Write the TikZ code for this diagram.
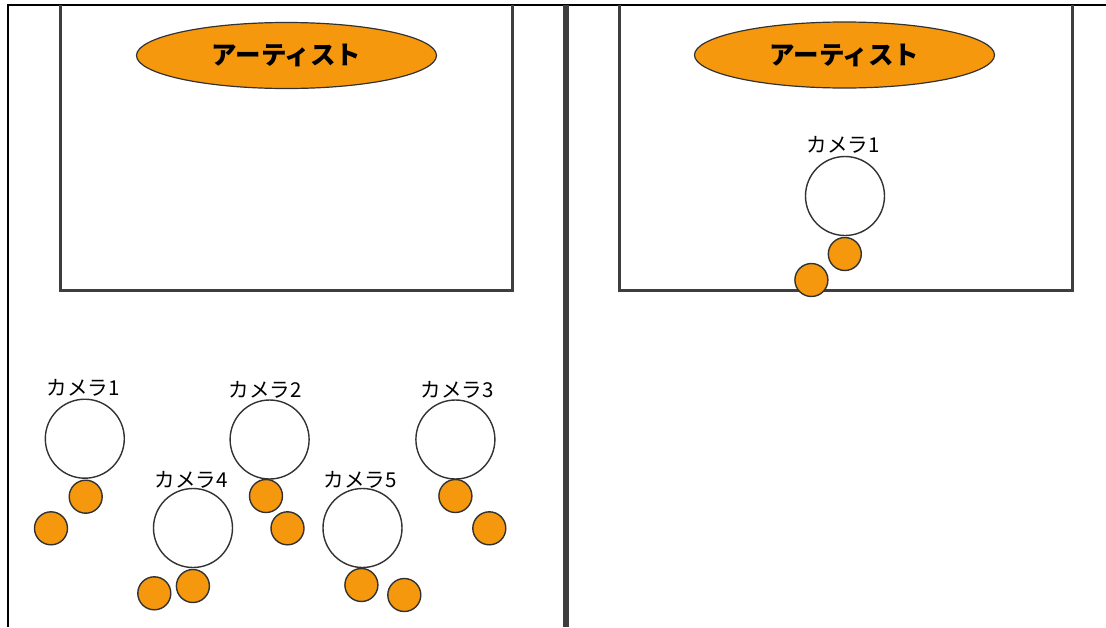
\documentclass[tikz,border=0pt]{standalone}
\usepackage{fontspec}
\newfontfamily\jp{Noto Sans CJK JP}
\usetikzlibrary{shapes.geometric}
\definecolor{stageorange}{RGB}{246,152,14}
\definecolor{wallgray}{RGB}{62,62,62}
\definecolor{rimgray}{RGB}{50,50,50}
\tikzset{
  frameline/.style={draw=black, line width=2pt},
  stagewall/.style={draw=wallgray, line width=3pt},
  divider/.style={draw=wallgray, line width=6pt},
  artist/.style={ellipse, draw=rimgray, line width=1.2pt, fill=stageorange,
    minimum width=300pt, minimum height=66pt, inner sep=0pt,
    font=\jp\bfseries\fontsize{25.5}{25.5}\selectfont},
  cambody/.style={circle, draw=rimgray, line width=1.4pt, fill=white,
    minimum size=79pt, inner sep=0pt},
  campart/.style={circle, draw=rimgray, line width=1.4pt, fill=stageorange,
    minimum size=33pt, inner sep=0pt},
  camlabel/.style={inner sep=0pt, font=\jp\fontsize{20.5}{20.5}\selectfont}
}
\begin{document}
\begin{tikzpicture}[x=1pt, y=-1pt]
  \useasboundingbox (0,0) rectangle (1106,627);
  \fill[white] (0,0) rectangle (1106,627);

  % outer frame: top and left edges
  \coordinate (frameTR) at (1106,4.5);
  \coordinate (frameTL) at (7.5,4.5);
  \coordinate (frameBL) at (7.5,627);
  \draw[frameline] (frameTR) -- (frameTL) -- (frameBL);

  % centre divider
  \coordinate (divTop) at (566,4.5);
  \coordinate (divBot) at (566,627);
  \draw[divider] (divTop) -- (divBot);

  % stage areas
  \coordinate (lsA) at (60.5,4.5);
  \coordinate (lsB) at (60.5,290);
  \coordinate (lsC) at (512.5,290);
  \coordinate (lsD) at (512.5,4.5);
  \draw[stagewall] (lsA) -- (lsB) -- (lsC) -- (lsD);
  \coordinate (rsA) at (619.5,4.5);
  \coordinate (rsB) at (619.5,290);
  \coordinate (rsC) at (1072,290);
  \coordinate (rsD) at (1072,4.5);
  \draw[stagewall] (rsA) -- (rsB) -- (rsC) -- (rsD);

  % artists
  \node[artist] (artL) at (286.5,55.5) {アーティスト};
  \node[artist] (artR) at (844.5,55) {アーティスト};

  % left: five cameras
  \node[cambody] (camA) at (84.8,438.7) {};
  \node[camlabel] (labA) at (83,388) {カメラ1};
  \node[campart] (camAa) at (85.7,496.7) {};
  \node[campart] (camAb) at (51,528.3) {};

  \node[cambody] (camB) at (269.6,439.5) {};
  \node[camlabel] (labB) at (265,390) {カメラ2};
  \node[campart] (camBa) at (266,496) {};
  \node[campart] (camBb) at (287.5,528.3) {};

  \node[cambody] (camC) at (455.4,439.5) {};
  \node[camlabel] (labC) at (457,390) {カメラ3};
  \node[campart] (camCa) at (455.4,496) {};
  \node[campart] (camCb) at (489.3,528.3) {};

  \node[cambody] (camD) at (193,528) {};
  \node[camlabel] (labD) at (191,480) {カメラ4};
  \node[campart] (camDa) at (192.9,586) {};
  \node[campart] (camDb) at (154.3,593.3) {};

  \node[cambody] (camE) at (362.5,528) {};
  \node[camlabel] (labE) at (360,480) {カメラ5};
  \node[campart] (camEa) at (361.4,585) {};
  \node[campart] (camEb) at (404.3,595) {};

  % right: single camera on stage
  \node[cambody] (camR) at (845,196) {};
  \node[camlabel] (labR) at (843,145) {カメラ1};
  \node[campart] (camRa) at (844.8,254) {};
  \node[campart] (camRb) at (811.4,280) {};
\end{tikzpicture}
\end{document}
